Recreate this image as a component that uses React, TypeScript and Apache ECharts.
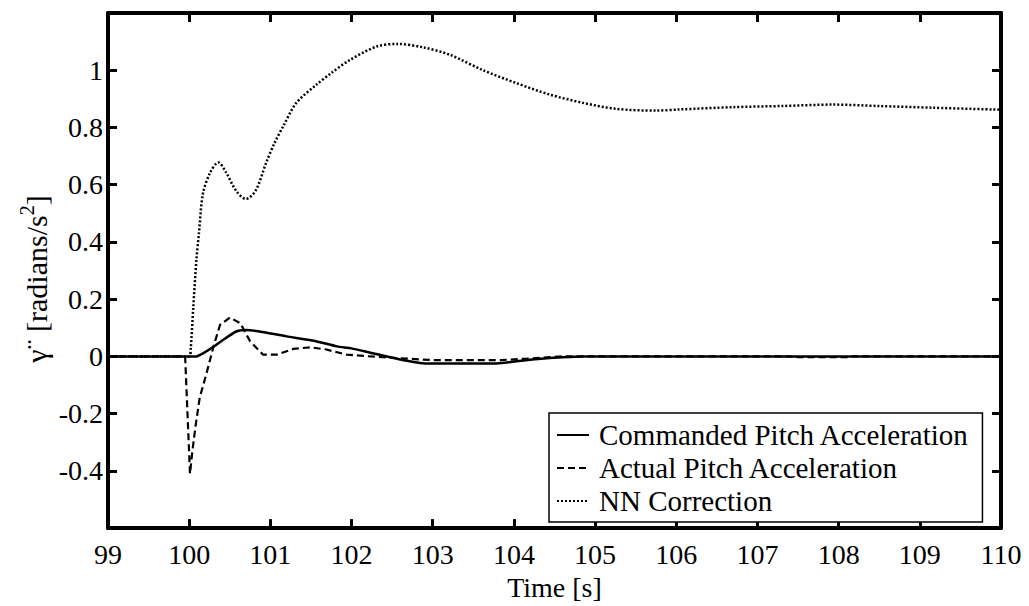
import React, { useEffect, useRef } from "react";
import * as echarts from "echarts";

// ---- data ----
const nnTime = [99, 100.0, 100.02, 100.05, 100.09, 100.12, 100.17, 100.26, 100.36, 100.45, 100.58, 100.7, 100.82, 100.95, 101.05, 101.16, 101.32, 101.57, 101.75, 101.98, 102.31, 102.56, 102.88, 103.21, 103.62, 104.03, 104.44, 104.85, 105.26, 105.75, 106.04, 106.7, 107.3, 107.93, 108.5, 109.16, 110];
const nnValue = [0, 0, 0.03, 0.17, 0.34, 0.43, 0.57, 0.643, 0.678, 0.645, 0.578, 0.55, 0.58, 0.678, 0.745, 0.805, 0.886, 0.95, 0.99, 1.036, 1.083, 1.092, 1.08, 1.054, 1.0, 0.955, 0.915, 0.886, 0.865, 0.859, 0.863, 0.871, 0.875, 0.88, 0.875, 0.869, 0.862];

const actTime = [99, 99.95, 100.01, 100.04, 100.08, 100.13, 100.21, 100.3, 100.38, 100.5, 100.63, 100.75, 100.91, 101.08, 101.28, 101.49, 101.69, 101.94, 102.18, 102.39, 103.0, 103.83, 104.16, 104.6, 107.4, 107.45, 108.1, 108.15, 110];
const actValue = [0, 0, -0.41, -0.33, -0.24, -0.144, -0.063, 0.035, 0.11, 0.136, 0.116, 0.053, 0.006, 0.006, 0.026, 0.032, 0.024, 0.006, 0.001, -0.003, -0.013, -0.013, -0.008, 0, 0, -0.003, -0.003, 0, 0];

const cmdTime = [99, 100.09, 100.18, 100.28, 100.42, 100.58, 100.7, 100.85, 101.2, 101.53, 101.82, 102.0, 102.23, 102.6, 102.92, 103.79, 104.03, 104.3, 104.6, 104.85, 110];
const cmdValue = [0, 0, 0.012, 0.03, 0.058, 0.087, 0.092, 0.088, 0.07, 0.055, 0.035, 0.028, 0.013, -0.011, -0.025, -0.025, -0.017, -0.009, -0.003, 0, 0];

const seriesNames = ["Commanded Pitch Acceleration", "Actual Pitch Acceleration", "NN Correction"];
const xTicks = { min: 99, max: 110, interval: 1 };
const yTicks = { min: -0.6, max: 1.2, interval: 0.2 };

const FONT = "Liberation Serif";

const zip = (t: number[], v: number[]) => t.map((x, i) => [x, v[i]]);

export default function App() {
  const ref = useRef<HTMLDivElement>(null);
  useEffect(() => {
    if (!ref.current) return;
    const chart = echarts.init(ref.current, undefined, { renderer: "svg" });
    const axisLine = { show: true, onZero: false, lineStyle: { color: "#000", width: 4 } };
    const tick = { show: true, inside: true, length: 9, lineStyle: { color: "#000", width: 3 } };
    const yFmt = (v: number) =>
      Math.abs(v - 1.2) < 1e-6 || Math.abs(v + 0.6) < 1e-6 ? "" : String(+v.toFixed(1));
    chart.setOption({
      animation: false,
      backgroundColor: "#fff",
      textStyle: { fontFamily: FONT },
      grid: { left: 108, right: 28, top: 13, bottom: 73, containLabel: false },
      xAxis: [
        {
          type: "value", ...xTicks, position: "bottom",
          axisLine, axisTick: tick, splitLine: { show: false },
          axisLabel: { fontSize: 28, color: "#000", fontFamily: FONT, margin: 12 },
          name: "Time [s]", nameLocation: "middle", nameGap: 40,
          nameTextStyle: { fontSize: 28, color: "#000", fontFamily: FONT },
        },
        {
          type: "value", ...xTicks, position: "top",
          axisLine, axisTick: tick, splitLine: { show: false }, axisLabel: { show: false },
        },
      ],
      yAxis: [
        {
          type: "value", ...yTicks, position: "left",
          axisLine, axisTick: tick, splitLine: { show: false },
          axisLabel: { fontSize: 28, color: "#000", fontFamily: FONT, margin: 5, formatter: yFmt },
        },
        {
          type: "value", ...yTicks, position: "right",
          axisLine, axisTick: tick, splitLine: { show: false }, axisLabel: { show: false },
        },
      ],
      legend: {
        orient: "vertical", left: 549, top: 413,
        padding: [7, 13, 6, 7],
        borderColor: "#000", borderWidth: 1.5, backgroundColor: "#fff",
        itemWidth: 32, itemHeight: 14, itemGap: 3,
        itemStyle: { opacity: 0 },
        textStyle: { fontSize: 29, color: "#000", fontFamily: FONT, lineHeight: 30, padding: [0, 0, 0, 5] },
        data: seriesNames,
      },
      graphic: [
        {
          type: "text", x: 34, y: 279, rotation: Math.PI / 2,
          style: {
            text: "{a|γ¨ [radians/s}{s|2}{a|]}",
            textAlign: "center", textVerticalAlign: "middle",
            rich: {
              a: { fontSize: 30, fontFamily: FONT, fill: "#000", lineHeight: 34, verticalAlign: "bottom" },
              s: { fontSize: 20, fontFamily: FONT, fill: "#000", lineHeight: 34, verticalAlign: "top" },
            },
          },
        },
      ],
      series: [
        {
          name: seriesNames[0], type: "line", symbol: "none",
          data: zip(cmdTime, cmdValue), smooth: 0.2,
          lineStyle: { color: "#000", width: 2.5, type: "solid" }, itemStyle: { color: "#000" },
        },
        {
          name: seriesNames[1], type: "line", symbol: "none",
          data: zip(actTime, actValue), smooth: false,
          lineStyle: { color: "#000", width: 2.2, type: [7, 4] }, itemStyle: { color: "#000" },
        },
        {
          name: seriesNames[2], type: "line", symbol: "none",
          data: zip(nnTime, nnValue), smooth: 0.3,
          lineStyle: { color: "#000", width: 2.5, type: [2, 2] }, itemStyle: { color: "#000" },
        },
      ],
    });
    return () => chart.dispose();
  }, []);
  return <div ref={ref} style={{ position: "fixed", left: 0, top: 0, width: 1029, height: 606 }} />;
}
